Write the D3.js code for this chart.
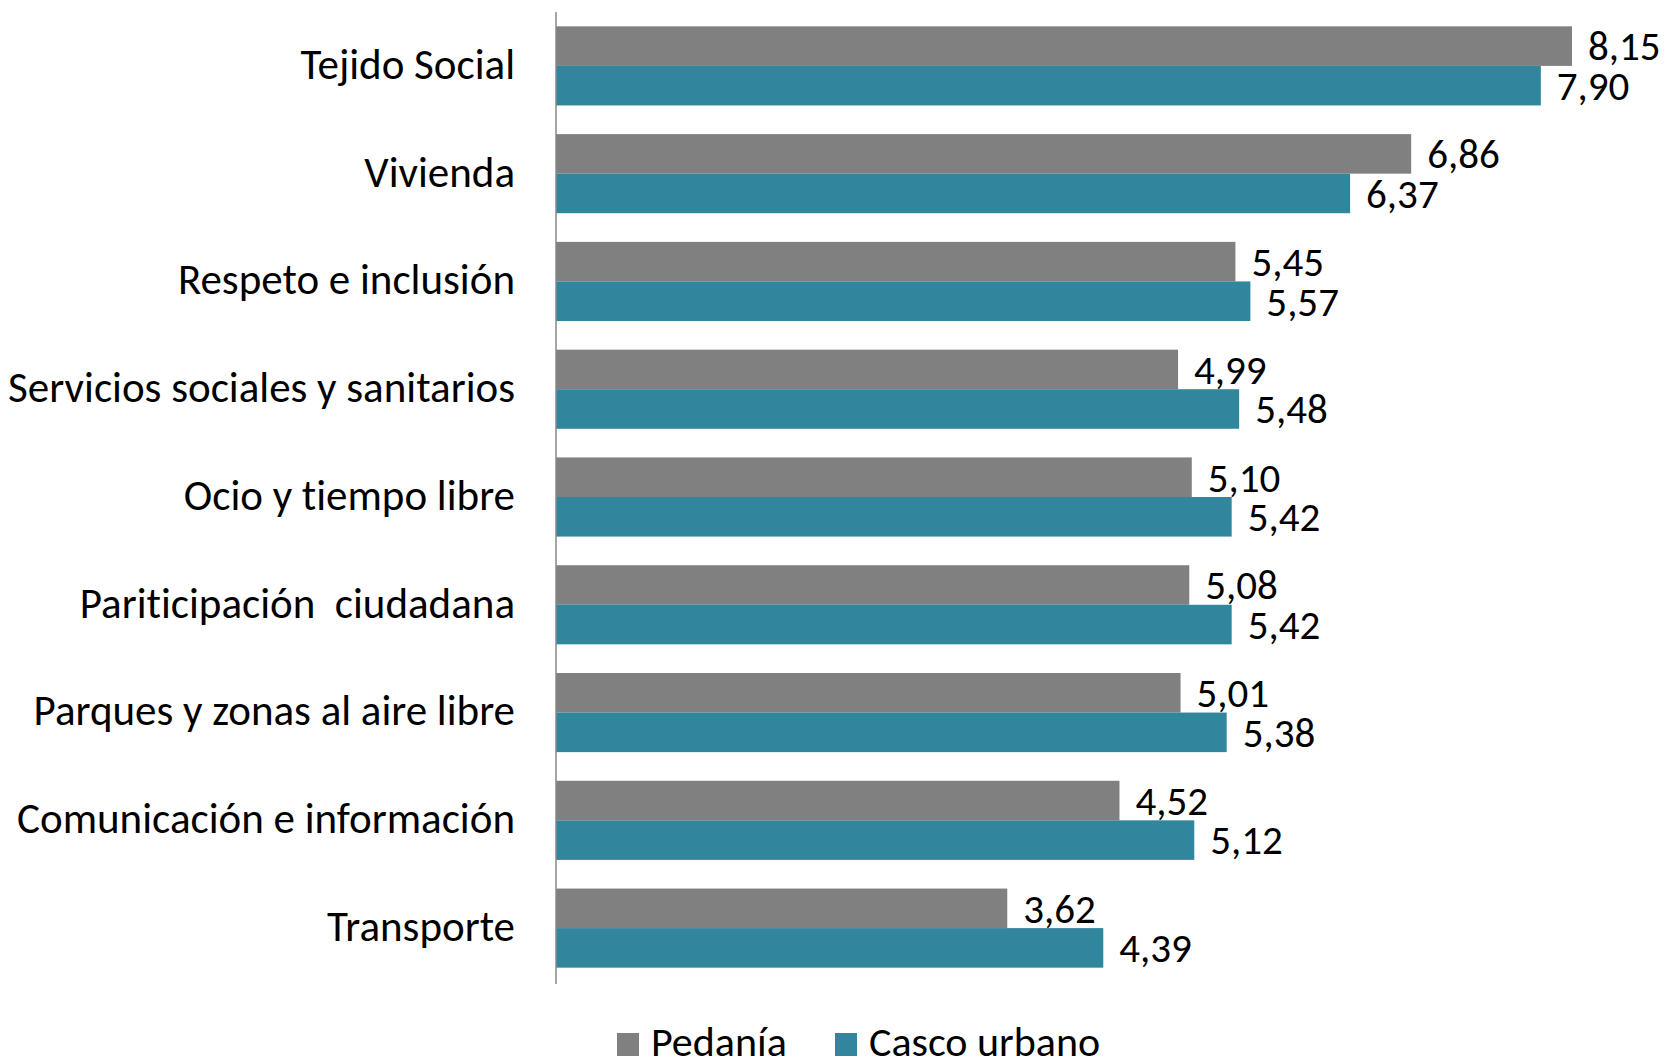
<!DOCTYPE html>
<html>
<head>
<meta charset="utf-8">
<script src="https://cdn.jsdelivr.net/npm/d3@7"></script>
<style>
  body { margin: 0; background: #fff; }
  svg { display: block; font-family: Carlito, Calibri, Lato, sans-serif; font-variant-ligatures: none; }
  text { white-space: pre; }
</style>
</head>
<body>
<div id="chart"></div>
<script>
// categories, top to bottom
var categories = ["Tejido Social", "Vivienda", "Respeto e inclusión", "Servicios sociales y sanitarios",
  "Ocio y tiempo libre", "Pariticipación  ciudadana", "Parques y zonas al aire libre",
  "Comunicación e información", "Transporte"];
var pedania = [8.15, 6.86, 5.45, 4.99, 5.10, 5.08, 5.01, 4.52, 3.62];
var cascoUrbano = [7.90, 6.37, 5.57, 5.48, 5.42, 5.42, 5.38, 5.12, 4.39];
var seriesNames = ["Pedanía", "Casco urbano"];
var seriesColors = ["#808080", "#31859c"];

var W = 1667, H = 1060;
var margin = { top: 12, right: 95, bottom: 78, left: 556 };
var width = W - margin.left - margin.right,
    height = H - margin.top - margin.bottom;

var data = categories.map(function (c, i) {
  return { cat: c, values: [pedania[i], cascoUrbano[i]] };
});

var svg = d3.select("#chart")
  .append("svg")
  .attr("width", W)
  .attr("height", H);

var g = svg.append("g")
  .attr("transform", "translate(" + margin.left + "," + margin.top + ")");

var x = d3.scaleLinear()
  .domain([0, d3.max(pedania.concat(cascoUrbano))])
  .range([0, width]);

var y = d3.scaleBand()
  .domain(categories)
  .range([0, height])
  .paddingInner(0.266)
  .paddingOuter(0.133);

var y1 = d3.scaleBand()
  .domain([0, 1])
  .range([0, y.bandwidth()]);

// bars
var group = g.selectAll(".cat")
  .data(data)
  .enter()
  .append("g")
  .attr("class", "cat")
  .attr("transform", function (d) { return "translate(0," + y(d.cat) + ")"; });

var bar = group.selectAll(".bar")
  .data(function (d) { return d.values.map(function (v, j) { return { v: v, s: j }; }); })
  .enter()
  .append("g");

bar.append("rect")
  .attr("x", 0)
  .attr("y", function (d) { return y1(d.s); })
  .attr("width", function (d) { return x(d.v); })
  .attr("height", y1.bandwidth())
  .attr("fill", function (d) { return seriesColors[d.s]; });

bar.append("text")
  .attr("x", function (d) { return x(d.v) + 16; })
  .attr("y", function (d) { return y1(d.s) + y1.bandwidth() / 2; })
  .attr("dy", "0.35em")
  .style("font-size", "41px")
  .attr("fill", "#000")
  .text(function (d) { return d.v.toFixed(2).replace(".", ","); });

// category axis
var yAxis = g.append("g")
  .call(d3.axisLeft(y).tickSize(0).tickPadding(41).tickSizeOuter(0));
yAxis.select(".domain")
  .attr("stroke", "#888")
  .attr("stroke-width", 1.5)
  .attr("d", "M0,0V" + (height + 2));
yAxis.selectAll("text")
  .style("font-size", "43px")
  .style("font-family", "Carlito, Calibri, Lato, sans-serif")
  .attr("fill", "#000")
  .attr("dy", "0.3em");

// legend
var legend = svg.append("g")
  .attr("transform", "translate(617,1033)");
var legX = [0, 218];
var item = legend.selectAll(".leg")
  .data(seriesNames)
  .enter()
  .append("g")
  .attr("transform", function (d, i) { return "translate(" + legX[i] + ",0)"; });
item.append("rect")
  .attr("width", 22)
  .attr("height", 23)
  .attr("fill", function (d, i) { return seriesColors[i]; });
item.append("text")
  .attr("x", 34)
  .attr("y", 23)
  .style("font-size", "42px")
  .attr("fill", "#000")
  .text(function (d) { return d; });
</script>
</body>
</html>
